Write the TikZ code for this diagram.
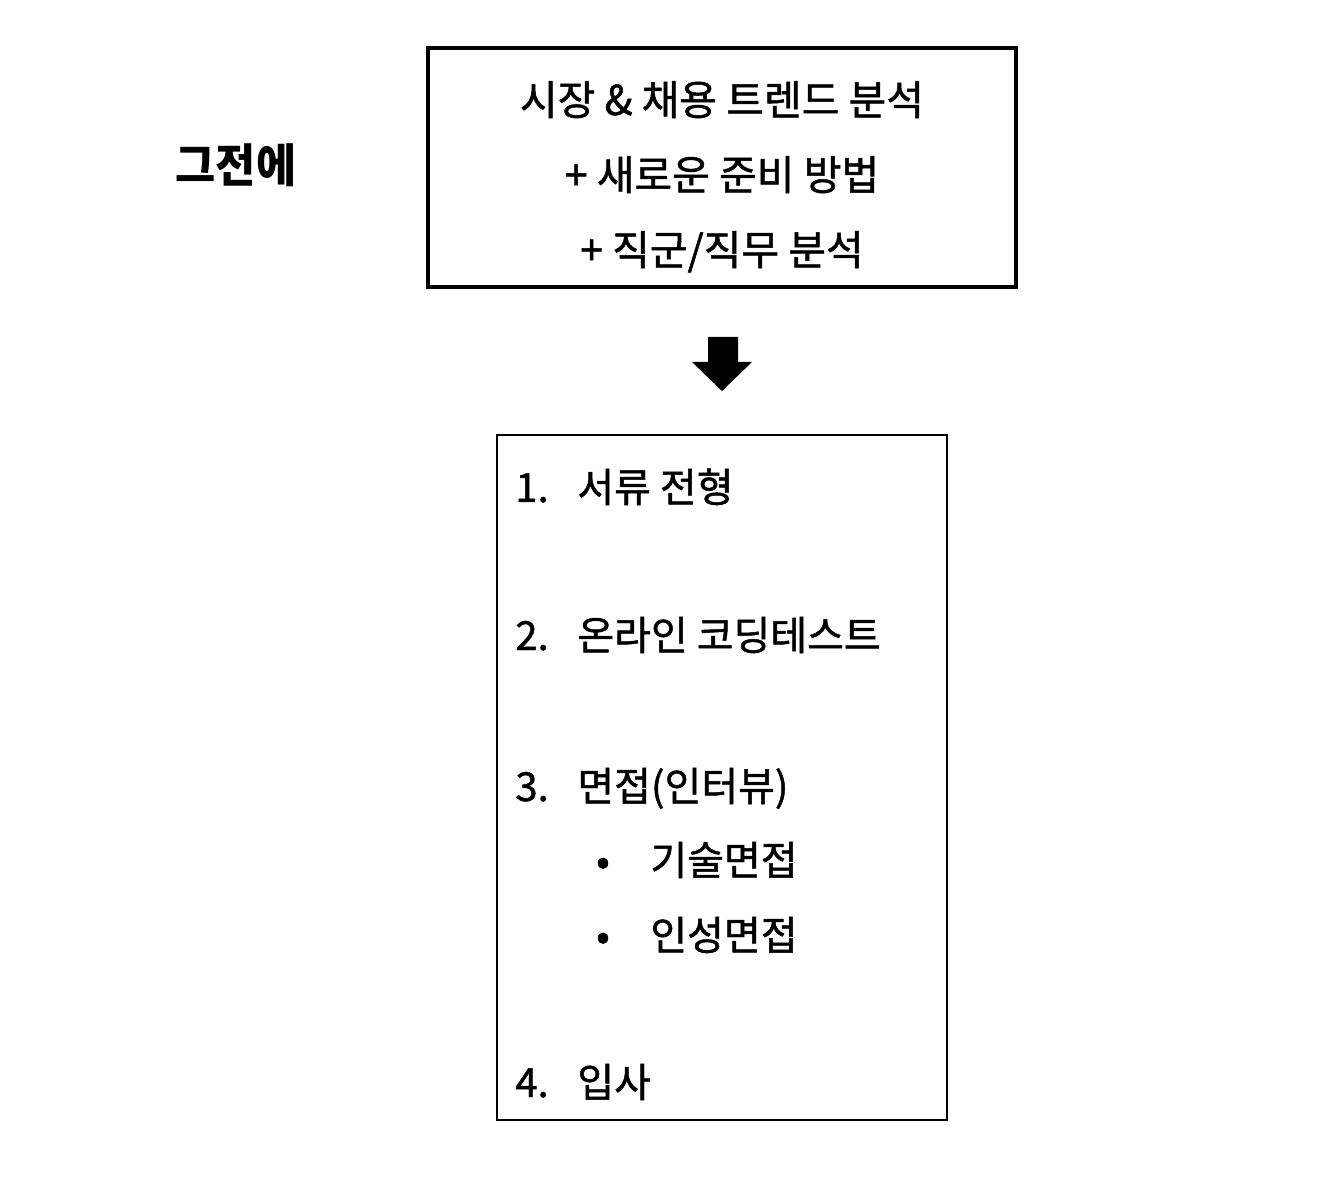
\documentclass[tikz,border=0pt]{standalone}
\usepackage{fontspec}
\setmainfont{Noto Sans CJK KR}
\newfontfamily\kr{Noto Sans CJK KR}[FakeBold=1.2]
\newfontfamily\krb{Noto Sans CJK KR}[FakeStretch=0.95]
\begin{document}
\begin{tikzpicture}[x=0.5pt,y=-0.5pt,
  toptext/.style={anchor=base,inner sep=0pt,font=\kr\fontsize{20.5}{24}\selectfont},
  itemtext/.style={anchor=base west,inner sep=0pt,font=\kr\fontsize{20}{24}\selectfont},
  bigbox/.style={draw=black,line width=2pt},
  listbox/.style={draw=black,line width=0.75pt}]
\useasboundingbox (0,0) rectangle (1334,1192);
\fill[white] (0,0) rectangle (1334,1192);
% left label
\node[anchor=base,inner sep=0pt,font=\krb\bfseries\fontsize{23}{27}\selectfont] (before) at (236,183) {그전에};
% top box
\node[bigbox,minimum width=294pt,minimum height=119.5pt,inner sep=0pt] (top) at (722,167.5) {};
\node[toptext] (t1) at (722,115) {시장 \& 채용 트렌드 분석};
\node[toptext] (t2) at (722,190) {+ 새로운 준비 방법};
\node[toptext] (t3) at (722,265) {+ 직군/직무 분석};
% block arrow
\fill[black] (708,337) -- (738,337) -- (738,362) -- (752,362) -- (722,391) -- (692,362) -- (708,362) -- cycle;
% list box
\node[listbox,minimum width=225pt,minimum height=342.5pt,inner sep=0pt] (list) at (722,777.5) {};
\node[itemtext] (n1) at (515,502) {1.};
\node[itemtext] (i1) at (577,502) {서류 전형};
\node[itemtext] (n2) at (515,650) {2.};
\node[itemtext] (i2) at (577,650) {온라인 코딩테스트};
\node[itemtext] (n3) at (515,801) {3.};
\node[itemtext] (i3) at (577,801) {면접(인터뷰)};
\node[itemtext,anchor=base] (b1) at (603,875) {•};
\node[itemtext] (s1) at (650,875) {기술면접};
\node[itemtext,anchor=base] (b2) at (603,950) {•};
\node[itemtext] (s2) at (650,950) {인성면접};
\node[itemtext] (n4) at (515,1097) {4.};
\node[itemtext] (i4) at (577,1097) {입사};
\end{tikzpicture}
\end{document}
